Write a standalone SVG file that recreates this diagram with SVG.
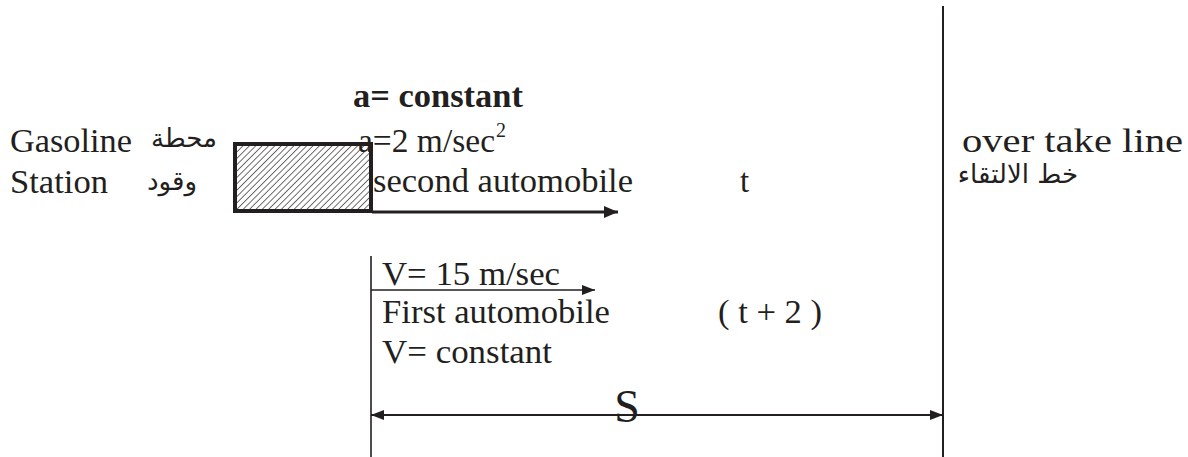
<svg xmlns="http://www.w3.org/2000/svg" width="1188" height="457" viewBox="0 0 1188 457">
<style>
.t{font-family:"Liberation Serif","Times New Roman",serif;font-size:33px;fill:#231f20}
.b{font-weight:bold}
.ar{font-family:"DejaVu Sans","Noto Sans",sans-serif;font-size:26px;fill:#231f20}
.ln{stroke:#231f20;fill:none}
</style>
<defs>
<pattern id="hatch" width="4.5" height="4.5" patternUnits="userSpaceOnUse" patternTransform="rotate(45)">
<line x1="0" y1="0" x2="0" y2="4.5" stroke="#4a4a4a" stroke-width="1.6"/>
</pattern>
<marker id="ah" viewBox="0 0 13 10" refX="13" refY="5" markerWidth="13" markerHeight="10" markerUnits="userSpaceOnUse" orient="auto-start-reverse">
<path d="M0,0 L13,5 L0,10 Z" fill="#231f20"/>
</marker>
<marker id="ahb" viewBox="0 0 14 12" refX="14" refY="6" markerWidth="14" markerHeight="12" markerUnits="userSpaceOnUse" orient="auto-start-reverse">
<path d="M0,0 L14,6 L0,12 Z" fill="#231f20"/>
</marker>
</defs>
<g id="connectors">
<line class="ln" x1="943" y1="6" x2="943" y2="457" stroke-width="2"/>
<line class="ln" x1="371" y1="256" x2="371" y2="457" stroke-width="1.6"/>
<line class="ln" x1="372" y1="212" x2="618" y2="212" stroke-width="3" marker-end="url(#ahb)"/>
<line class="ln" x1="371" y1="290" x2="595" y2="290" stroke-width="1.6" marker-end="url(#ah)"/>
<line class="ln" x1="371" y1="415" x2="943" y2="415" stroke-width="2" marker-start="url(#ah)" marker-end="url(#ah)"/>
</g>
<g id="car">
<rect x="235" y="144" width="136" height="67" fill="url(#hatch)" stroke="#231f20" stroke-width="4"/>
</g>
<g id="station">
<text class="t" x="10" y="152" textLength="122" lengthAdjust="spacingAndGlyphs">Gasoline</text>
<text class="t" x="10" y="193" textLength="98" lengthAdjust="spacingAndGlyphs">Station</text>
<text class="ar" x="217" y="147" text-anchor="end">محطة</text>
<text class="ar" x="197" y="190" text-anchor="end">وقود</text>
</g>
<g id="second-automobile">
<text class="t b" x="353" y="107" textLength="170" lengthAdjust="spacingAndGlyphs">a= constant</text>
<text class="t" x="358" y="152" textLength="137" lengthAdjust="spacingAndGlyphs">a=2 m/sec</text>
<text class="t" x="496" y="137" style="font-size:20px">2</text>
<text class="t" x="373" y="192" textLength="260" lengthAdjust="spacingAndGlyphs">second automobile</text>
<text class="t" x="740" y="192">t</text>
</g>
<g id="first-automobile">
<text class="t" x="382" y="285" textLength="178" lengthAdjust="spacingAndGlyphs">V= 15 m/sec</text>
<text class="t" x="382" y="323" textLength="228" lengthAdjust="spacingAndGlyphs">First automobile</text>
<text class="t" x="382" y="363" textLength="170" lengthAdjust="spacingAndGlyphs">V= constant</text>
<text class="t" x="718" y="323" textLength="104" lengthAdjust="spacingAndGlyphs">( t + 2 )</text>
</g>
<g id="overtake-line">
<text class="t" x="962" y="152" textLength="221" lengthAdjust="spacingAndGlyphs">over take line</text>
<text class="ar" x="1078" y="183" text-anchor="end">خط الالتقاء</text>
</g>
<g id="distance">
<text class="t" x="627" y="422" text-anchor="middle" style="font-size:46px">S</text>
</g>
</svg>
